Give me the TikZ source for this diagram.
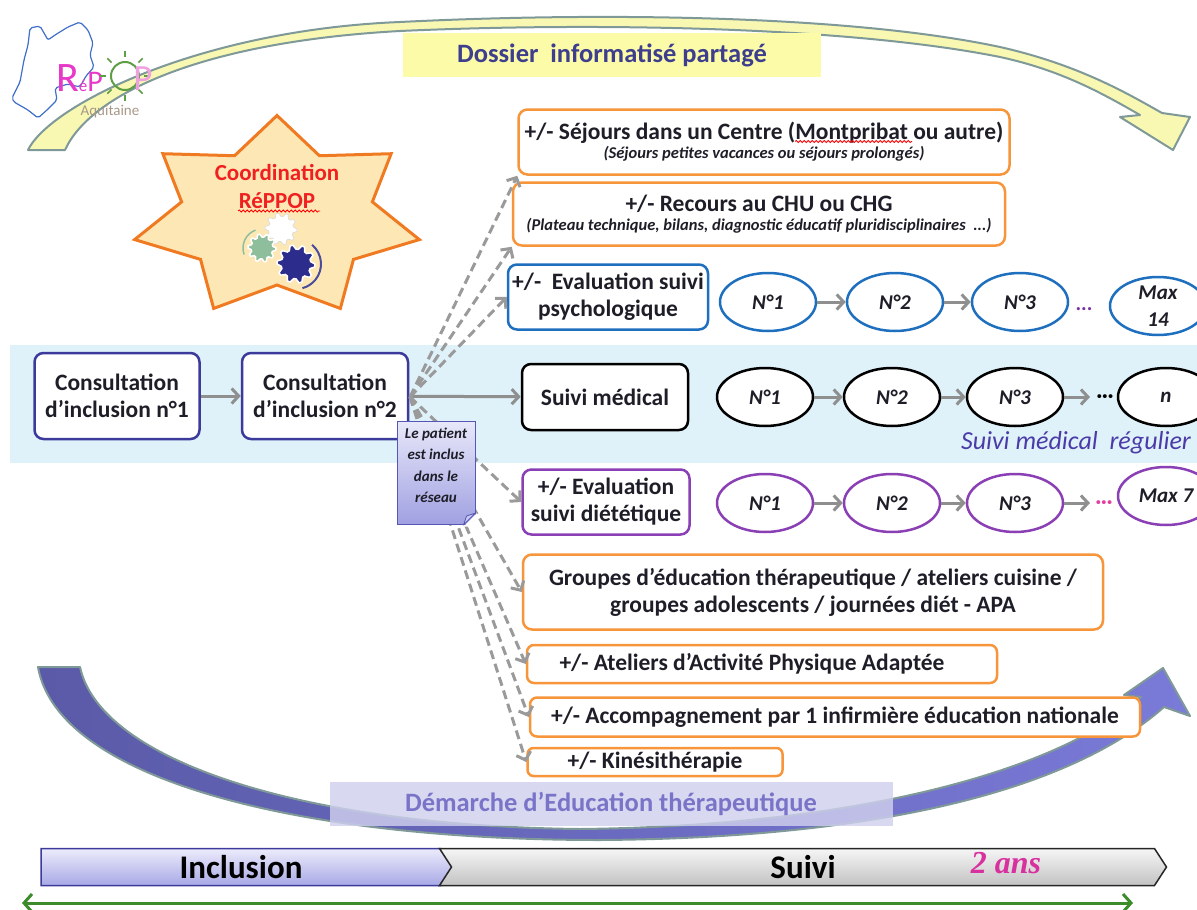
\documentclass[tikz,border=0pt]{standalone}
\usepackage{fontspec}
\setmainfont{Carlito}
\newfontfamily\ansfont{Liberation Serif}
\usetikzlibrary{arrows.meta,shapes.geometric,shapes.symbols,decorations.pathmorphing}

\definecolor{bandblue}{HTML}{DFF1F9}
\definecolor{dossieryellow}{HTML}{FBFBA8}
\definecolor{labelblue}{HTML}{3E3E8E}
\definecolor{demlav}{HTML}{CFCFEE}
\definecolor{demtext}{HTML}{7A74C8}
\definecolor{arcyellow}{HTML}{F8F8B2}
\definecolor{arcedge}{HTML}{7F9898}
\definecolor{arcpurpleL}{HTML}{5A5AA8}
\definecolor{arcpurpleR}{HTML}{7A7AD8}
\definecolor{starfill}{HTML}{FDE8B5}
\definecolor{staredge}{HTML}{F07A22}
\definecolor{coordred}{HTML}{F02020}
\definecolor{inclblue}{HTML}{3C3A9A}
\definecolor{offorange}{HTML}{F7953B}
\definecolor{psyblue}{HTML}{1F6FBF}
\definecolor{dietpurple}{HTML}{8A3FB5}
\definecolor{linkgray}{HTML}{8F8F8F}
\definecolor{dashgray}{HTML}{9A9A9A}
\definecolor{txtdark}{HTML}{1E1E28}
\definecolor{regblue}{HTML}{4B3BA8}
\definecolor{dotpurple}{HTML}{7A30A0}
\definecolor{dotpink}{HTML}{E040A0}
\definecolor{notetop}{HTML}{E8E8FA}
\definecolor{notebot}{HTML}{A0A0E2}
\definecolor{noteedge}{HTML}{5656B4}
\definecolor{notefold}{HTML}{C8C8F0}
\definecolor{incltop}{HTML}{ECECFC}
\definecolor{inclbot}{HTML}{A8A8E6}
\definecolor{suivitop}{HTML}{F6F6F6}
\definecolor{suivibot}{HTML}{C2C2C2}
\definecolor{ansmagenta}{HTML}{D8309E}
\definecolor{spangreen}{HTML}{3C8C2C}
\definecolor{logopink}{HTML}{E838C8}
\definecolor{logopinkb}{HTML}{F0A0E0}
\definecolor{logogreen}{HTML}{5E9E44}
\definecolor{mapblue}{HTML}{3F6FC8}
\definecolor{aquigray}{HTML}{A89888}
\definecolor{gearblue}{HTML}{2C2C8C}
\definecolor{geargreen}{HTML}{8EBE9C}

\tikzset{
  box/.style={draw, rounded corners=9pt, line width=2.5pt, fill=white, align=center,
    text=txtdark, inner sep=1pt, font=\bfseries\fontsize{23.5}{27}\selectfont},
  incl/.style={box, draw=inclblue, minimum width=165pt, minimum height=86pt},
  offer/.style={box, draw=offorange},
  visit/.style={ellipse, draw, line width=2.5pt, fill=white, minimum width=96pt,
    minimum height=58pt, inner sep=0pt, align=center, text=txtdark,
    font=\bfseries\itshape\fontsize{21}{27}\selectfont},
  link/.style={draw=linkgray, line width=3pt, -{Straight Barb[length=7pt,width=15pt]}},
  maybe/.style={link, draw=dashgray, dash pattern=on 9pt off 5pt},
  tag/.style={inner sep=0pt, font=\bfseries\fontsize{26.5}{26.5}\selectfont},
  spell/.style={draw=red, line width=0.8pt, decorate, decoration={snake, amplitude=1pt, segment length=4pt}},
  note/.style={rectangle, draw=noteedge, line width=1pt, top color=notetop, bottom color=notebot,
    minimum width=78pt, minimum height=103pt, inner sep=1pt, align=center, text=txtdark,
    font=\bfseries\itshape\fontsize{15}{21.5}\selectfont},
  phase/.style={signal, signal to=east, signal pointer angle=114, line width=1.5pt,
    minimum height=37pt, inner sep=0pt, font=\bfseries\fontsize{33}{33}\selectfont, text=black},
  span/.style={draw=spangreen, line width=3pt,
    {Straight Barb[length=8pt,width=18pt]}-{Straight Barb[length=8pt,width=18pt]}},
}

\begin{document}
\begin{tikzpicture}[x=1pt, y=-1pt]

  \useasboundingbox (0,0) rectangle (1197,910);

  \newcommand\gear[4]{\filldraw[#4] plot[samples at={0,...,39}, variable=\k]
    ({#1+#3*(1-0.22*mod(floor(\k/2),2))*cos(\k*9)},
     {#2+#3*(1-0.22*mod(floor(\k/2),2))*sin(\k*9)}) -- cycle;}

  \fill[bandblue] (10,345) rectangle (1197,463);

  %% dossier arc
  \filldraw[fill=arcyellow, draw=arcedge, line width=2pt, line join=round]
    (28,150) .. controls (50,105) and (200,30) .. (400,22) .. controls (600,12) and (850,15) .. (1000,47)
    .. controls (1080,65) and (1130,95) .. (1162,113) -- (1190,117) -- (1173,150) -- (1120,117)
    -- (1140,115) .. controls (1100,92) and (1060,70) .. (1000,57) .. controls (850,27) and (600,22) .. (400,31)
    .. controls (200,42) and (90,95) .. (65,150) -- cycle;
  \node[tag, fill=dossieryellow, text=labelblue, minimum width=418pt, minimum height=44pt]
    (dossier) at (612,55) {Dossier\ \ informatisé partagé};

  %% logo
  \draw[mapblue, line width=1.2pt, rounded corners=2pt] (30,28) -- (40,26) -- (48,40) -- (55,35)
    -- (68,27) -- (80,22) -- (88,30) -- (93,43) -- (90,55) -- (94,67) -- (86,76) -- (80,87)
    -- (68,84) -- (55,88) -- (57,100) -- (47,110) -- (38,118) -- (28,110) -- (14,102)
    -- (12,98) -- (20,82) -- (24,60) -- (28,45) -- cycle;
  \node[inner sep=0pt, font=\fontsize{42}{42}\selectfont, text=logopink] (logoR) at (68,78) {R};
  \node[inner sep=0pt, font=\fontsize{17}{17}\selectfont, text=logopink] (logoE) at (83,86) {é};
  \node[inner sep=0pt, font=\fontsize{30}{30}\selectfont, text=logopink] (logoP) at (95,82) {P};
  \draw[logogreen, line width=2pt] (125,76) circle (14pt);
  \foreach \a in {0,45,...,315}
    \draw[logogreen, line width=1.5pt] ([shift={(\a:19pt)}]125,76) -- ([shift={(\a:25pt)}]125,76);
  \node[inner sep=0pt, font=\fontsize{37}{37}\selectfont, text=logopinkb] (logoQ) at (143,79) {P};
  \node[inner sep=0pt, font=\fontsize{15}{15}\selectfont, text=aquigray] (logoA) at (110,112) {Aquitaine};

  %% education arc
  \filldraw[left color=arcpurpleL, right color=arcpurpleR, draw=arcedge, line width=2pt, line join=round]
    (38,667) .. controls (58,780) and (300,840) .. (600,840) .. controls (880,838) and (1070,790) .. (1164,707)
    -- (1190,716) -- (1163,668) -- (1124,695) -- (1141,697)
    .. controls (1060,770) and (860,826) .. (580,829) .. controls (300,826) and (100,760) .. (80,667) -- cycle;
  \node[tag, fill=demlav, fill opacity=0.82, text opacity=1, text=demtext, minimum width=563pt,
    minimum height=44pt] (demarche) at (611,804) {Démarche d’Education thérapeutique};

  %% coordination star
  \draw[fill=starfill, draw=staredge, line width=3pt] plot[samples at={0,...,13}, variable=\k]
    ({277+146*(1-0.33*mod(\k,2))*cos(90+\k*360/14)}, {217-101.5*(1-0.33*mod(\k,2))*sin(90+\k*360/14)}) -- cycle;
  \node[text=coordred, align=center, font=\bfseries\fontsize{23}{28}\selectfont] (coord) at (277,186)
    {Coordination\\RéPPOP};
  \draw[spell] (238,211) -- (320,211);
  \gear{281}{229}{16}{fill=white, draw=black!15, line width=0.6pt}
  \gear{262}{248}{14}{fill=geargreen, draw=white, line width=1.5pt}
  \gear{296}{264}{19}{fill=gearblue, draw=white, line width=1.5pt}
  \draw[gearblue!85, line width=2pt] ([shift={(50:25pt)}]296,264) arc[start angle=50, end angle=-75, radius=25pt];
  \draw[geargreen, line width=1.5pt] ([shift={(110:19pt)}]262,248) arc[start angle=110, end angle=200, radius=19pt];

  %% inclusion
  \node[incl] (incl1) at (117,396) {Consultation\\d’inclusion n°1};
  \node[incl, minimum width=166pt] (incl2) at (325,396) {Consultation\\d’inclusion n°2};

  %% offers
  \node[offer, minimum width=491pt, minimum height=65pt] (sejour) at (764,142)
    {+/- Séjours dans un Centre (Montpribat ou autre)\\[-8pt]
     {\fontsize{16.5}{17}\selectfont\itshape (Séjours petites vacances ou séjours prolongés)}};
  \draw[spell] (795,141.5) -- (912,141.5);
  \node[offer, minimum width=492pt, minimum height=63pt] (recours) at (759,214)
    {+/- Recours au CHU ou CHG\\[-8pt]
     {\fontsize{16.5}{17}\selectfont\itshape (Plateau technique, bilans,\ diagnostic éducatif pluridisciplinaires\ \ ...)}};
  \node[box, draw=psyblue, minimum width=200pt, minimum height=65pt] (psy) at (608,297)
    {+/-\ \ Evaluation suivi\\psychologique};
  \node[box, draw=black, minimum width=166pt, minimum height=66pt] (suivi) at (605,397) {Suivi médical};
  \node[box, draw=dietpurple, minimum width=167pt, minimum height=65pt] (diet) at (606,502)
    {+/- Evaluation\\suivi diététique};
  \node[offer, minimum width=580pt, minimum height=75pt] (groupes) at (813,592)
    {Groupes d’éducation thérapeutique / ateliers cuisine /\\groupes adolescents / journées diét - APA};
  \node[offer, rounded corners=7pt, minimum width=470pt, minimum height=38pt] (ateliers) at (762,664)
    {+/- Ateliers d’Activité Physique Adaptée\hspace*{20pt}};
  \node[offer, rounded corners=7pt, minimum width=610pt, minimum height=39pt] (accomp) at (835,717)
    {+/- Accompagnement par 1 infirmière éducation nationale};
  \node[offer, rounded corners=6pt, minimum width=255pt, minimum height=28pt] (kine) at (655,762)
    {+/- Kinésithérapie};

  %% psychologique
  \node[visit, draw=psyblue] (p1) at (768,302) {N°1};
  \node[visit, draw=psyblue] (p2) at (895,302) {N°2};
  \node[visit, draw=psyblue] (p3) at (1020,302) {N°3};
  \node[text=dotpurple, font=\bfseries\fontsize{21}{21}\selectfont] (pdots) at (1084,309) {...};
  \node[visit, draw=psyblue] (p4) at (1158,306) {Max\\14};
  \draw[link] (p1) -- (p2);
  \draw[link] (p2) -- (p3);

  %% medical
  \node[visit, draw=black] (m1) at (765,397) {N°1};
  \node[visit, draw=black] (m2) at (892,397) {N°2};
  \node[visit, draw=black] (m3) at (1015,397) {N°3};
  \coordinate (mend) at (1090,397);
  \node[text=black, font=\bfseries\fontsize{21}{21}\selectfont] (mdots) at (1105,399) {···};
  \node[visit, draw=black] (m4) at (1166,397) {n};
  \draw[link] (m1) -- (m2);
  \draw[link] (m2) -- (m3);
  \draw[link] (m3) -- (mend);
  \node[text=regblue, font=\itshape\fontsize{26}{26}\selectfont] (regulier) at (1076,443)
    {Suivi médical\ \ régulier};

  %% dietetique
  \node[visit, draw=dietpurple] (d1) at (765,503) {N°1};
  \node[visit, draw=dietpurple] (d2) at (892,503) {N°2};
  \node[visit, draw=dietpurple] (d3) at (1015,503) {N°3};
  \coordinate (dend) at (1090,503);
  \node[text=dotpink, font=\bfseries\fontsize{21}{21}\selectfont] (ddots) at (1104,505) {···};
  \node[visit, draw=dietpurple] (d4) at (1166,496) {Max 7};
  \draw[link] (d1) -- (d2);
  \draw[link] (d2) -- (d3);
  \draw[link] (d3) -- (dend);

  %% connectors
  \draw[link] (incl1) -- (incl2);
  \draw[link] (incl2) -- (suivi);
  \coordinate (hub) at (410,397);
  \draw[maybe] (hub) -- (sejour.south west);
  \draw[maybe] (hub) -- (recours.south west);
  \draw[maybe] (hub) -- (psy.west);
  \draw[maybe] (hub) -- (diet.west);
  \draw[maybe] (hub) -- (groupes.west);
  \draw[maybe] (hub) -- (ateliers.west);
  \draw[maybe] (hub) -- (accomp.west);
  \draw[maybe] (hub) -- (kine.west);

  %% note
  \node[note] (patient) at (436,473) {Le patient\\est inclus\\dans le\\réseau\\[-6pt]};
  \fill[white] ([xshift=-12pt,yshift=-1.5pt]patient.south east) -- ([xshift=1.5pt,yshift=-1.5pt]patient.south east)
    -- ([xshift=1.5pt,yshift=12pt]patient.south east) -- cycle;
  \filldraw[fill=notefold, draw=noteedge, line width=0.8pt, line join=round]
    ([xshift=-12pt]patient.south east) -- ([yshift=12pt]patient.south east)
    -- ([xshift=-9pt,yshift=9pt]patient.south east) -- cycle;

  %% timeline
  \node[phase, draw=inclblue, top color=incltop, bottom color=inclbot, minimum width=412pt]
    (inclusion) at (241,867) {Inclusion};
  \node[phase, signal from=west, draw=black!85, top color=suivitop, bottom color=suivibot,
    minimum width=727pt] (phsuivi) at (803,867) {Suivi};
  \node[text=ansmagenta, font=\ansfont\bfseries\itshape\fontsize{32}{32}\selectfont] (duree) at (1006,863) {2 ans};
  \coordinate (t0) at (22,903);
  \coordinate (t1) at (1133,903);
  \draw[span] (t0) -- (t1);

\end{tikzpicture}
\end{document}
